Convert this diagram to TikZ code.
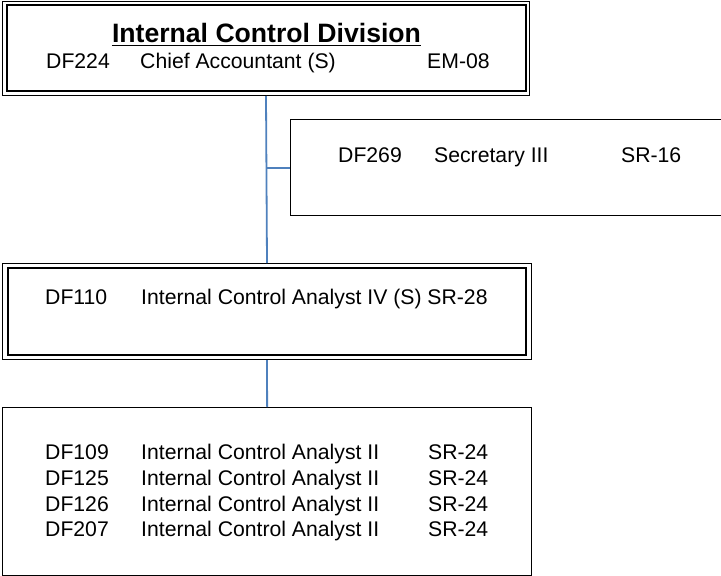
\documentclass[tikz,border=0pt]{standalone}
\usepackage{fontspec}
\setmainfont{Liberation Sans}
\begin{document}
\begin{tikzpicture}[x=1pt,y=-1pt,
  boxline/.style={draw=black, line width=1pt, inner sep=0pt, anchor=north west},
  innerline/.style={draw=black, line width=1.8pt},
  conn/.style={draw={rgb,255:red,79;green,129;blue,189}, line width=1.8pt},
  txt/.style={anchor=base west, inner sep=0pt, font=\fontsize{21.2}{26}\selectfont},
  ttl/.style={anchor=base, inner sep=0pt, font=\fontsize{26.6}{30}\selectfont\bfseries}]
\useasboundingbox (0,0) rectangle (721,576);
% boxes
\node[boxline, minimum width=527pt, minimum height=94pt] (top) at (2,1) {};
\draw[innerline] ([shift={(5,4)}]top.north west) rectangle ([shift={(-4,-5)}]top.south east);
\node[boxline, line width=1.3pt, minimum width=440pt, minimum height=96pt] (sec) at (290,119) {};
\node[boxline, minimum width=529pt, minimum height=96pt] (mid) at (2,263) {};
\draw[innerline] ([shift={(6,5)}]mid.north west) rectangle ([shift={(-6,-5)}]mid.south east);
\node[boxline, line width=1.3pt, minimum width=529pt, minimum height=168pt] (bot) at (2,407) {};
% connectors
\draw[conn] (top.south) -- (mid.north);
\coordinate (j) at (sec.west -| top.south);
\draw[conn] (j) -- (sec.west);
\draw[conn] (mid.south) -- (bot.north);
% texts
\node[ttl] (title) at (266.5,42.5) {Internal Control Division};
\draw[line width=1.6pt] ([shift={(0,2.8)}]title.base west) -- ([shift={(0,2.8)}]title.base east);
\node[txt] (t1a) at (46,68) {DF224};
\node[txt] (t1b) at (140,68) {Chief Accountant (S)};
\node[txt] (t1c) at (427,68) {EM-08};
\node[txt] (s1a) at (338,162) {DF269};
\node[txt] (s1b) at (434,162) {Secretary III};
\node[txt] (s1c) at (621,162) {SR-16};
\node[txt] (m1a) at (45,304) {DF110};
\node[txt] (m1b) at (141,304) {Internal Control Analyst IV (S) SR-28};
\foreach \i/\c/\y in {1/DF109/459,2/DF125/485,3/DF126/511,4/DF207/536}{
  \node[txt] (b\i a) at (45,\y) {\c};
  \node[txt] (b\i b) at (141,\y) {Internal Control Analyst II};
  \node[txt] (b\i c) at (428,\y) {SR-24};
}
\end{tikzpicture}
\end{document}
